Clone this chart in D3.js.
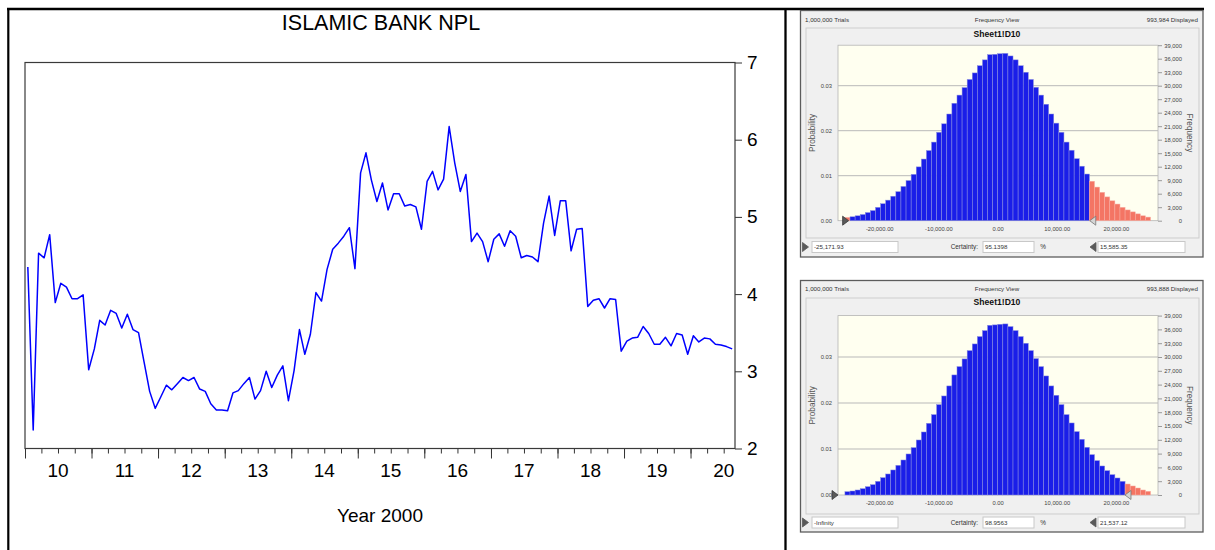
<!DOCTYPE html>
<html>
<head>
<meta charset="utf-8">
<script src="https://cdn.jsdelivr.net/npm/d3@7"></script>
<style>
  html, body { margin: 0; padding: 0; background: #fff; }
  svg { display: block; }
  text { font-family: "Liberation Sans", Arial, sans-serif; }
</style>
</head>
<body>
<svg id="fig" width="1215" height="550"></svg>
<script>
// ---------- Data: Islamic bank NPL ratio (%), monthly Jan 2010 – Aug 2020 ----------
const nplStart = new Date(2010, 0, 1);
const nplEnd = new Date(2020, 8, 1);
const nplValues = [
  4.35, 2.24, 4.53, 4.47, 4.77, 3.89, 4.14, 4.09, 3.94, 3.94, 3.99, 3.02,
  3.29, 3.66, 3.60, 3.79, 3.75, 3.56, 3.74, 3.54, 3.50, 3.12, 2.74, 2.52,
  2.67, 2.82, 2.76, 2.84, 2.92, 2.88, 2.92, 2.77, 2.74, 2.58, 2.50, 2.50,
  2.49, 2.72, 2.75, 2.84, 2.92, 2.64, 2.75, 3.00, 2.79, 2.95, 3.07, 2.62,
  3.01, 3.54, 3.22, 3.48, 4.02, 3.91, 4.32, 4.58, 4.66, 4.75, 4.86, 4.33,
  5.57, 5.83, 5.48, 5.20, 5.44, 5.09, 5.30, 5.30, 5.14, 5.16, 5.13, 4.84,
  5.46, 5.59, 5.35, 5.49, 6.17, 5.70, 5.33, 5.55, 4.68, 4.79, 4.68, 4.42,
  4.71, 4.78, 4.62, 4.82, 4.75, 4.47, 4.50, 4.48, 4.42, 4.92, 5.27, 4.76,
  5.21, 5.21, 4.56, 4.84, 4.85, 3.84, 3.92, 3.94, 3.82, 3.94, 3.93, 3.26,
  3.39, 3.43, 3.44, 3.58, 3.49, 3.35, 3.35, 3.44, 3.33, 3.49, 3.47, 3.22,
  3.46, 3.38, 3.43, 3.42, 3.35, 3.34, 3.32, 3.29
];
const nplTicks = [2, 3, 4, 5, 6, 7];
const nplTitle = "ISLAMIC BANK NPL";
const nplXTitle = "Year 2000";

// ---------- Data: simulated forecast frequency (Sheet1!D10) ----------
const binStart = -25800;
const binWidth = 861;
const frequency = [
  725, 870, 1090, 1380, 1810, 2250, 2970, 3770, 4570, 5440,
  6450, 7610, 8920, 10300, 11960, 13700, 15590, 17470, 19650, 21530,
  23710, 26100, 27910, 29580, 31390, 32840, 34440, 35740, 36900, 36980,
  37120, 37190, 36610, 35740, 34440, 32990, 31390, 29650, 27910, 25880,
  23710, 21680, 19650, 17470, 15660, 13780, 12110, 10370, 8770, 7470,
  6310, 5290, 4420, 3700, 2970, 2390, 1960, 1520, 1090, 800
];
const trials = 1000000;
const forecastName = "Sheet1!D10";
const trialsText = ["1,000,000 Trials", "1,000,000 Trials"];
const displayedText = ["993,984 Displayed", "993,888 Displayed"];
const lowerBound = [-25171.93, -Infinity];
const upperBound = [15585.35, 21537.12];
const lowerLabel = ["-25,171.93", "-Infinity"];
const upperLabel = ["15,585.35", "21,537.12"];
const certaintyText = ["95.1398", "98.9563"];
const probTicks = [0, 0.01, 0.02, 0.03];
const freqTicks = [0, 3000, 6000, 9000, 12000, 15000, 18000, 21000, 24000, 27000, 30000, 33000, 36000, 39000];
const valueTicks = [-20000, -10000, 0, 10000, 20000];

const svg = d3.select("#fig");

// ---------- outer table rules ----------
svg.append("line").attr("x1", 7).attr("x2", 1204).attr("y1", 9).attr("y2", 9)
  .attr("stroke", "#000").attr("stroke-width", 2.4);
svg.append("line").attr("x1", 8.3).attr("x2", 8.3).attr("y1", 8).attr("y2", 550)
  .attr("stroke", "#000").attr("stroke-width", 2.2);
svg.append("line").attr("x1", 785.5).attr("x2", 785.5).attr("y1", 8).attr("y2", 550)
  .attr("stroke", "#000").attr("stroke-width", 2.3);

// ---------- line chart ----------
const L = { left: 25, right: 735, top: 62.5, bottom: 448.5 };
const x = d3.scaleTime().domain([nplStart, nplEnd]).range([L.left, L.right]);
const y = d3.scaleLinear().domain([2, 7]).range([L.bottom, L.top]);
const months = d3.timeMonths(nplStart, nplEnd);
const nplSeries = months.map((m, i) => ({ m, v: nplValues[i] }));
const midMonth = m => (x(m) + x(d3.timeMonth.offset(m, 1))) / 2;

const left = svg.append("g");
left.append("text").attr("x", 381).attr("y", 30).attr("text-anchor", "middle")
  .attr("font-size", 21.5).attr("fill", "#000").text(nplTitle);

// quarterly minor ticks and yearly major ticks
const quarterAxis = d3.axisBottom(x).tickValues(d3.timeMonths(nplStart, nplEnd, 3))
  .tickSize(5).tickFormat("");
const yearAxis = d3.axisBottom(x).tickValues(d3.timeYears(nplStart, nplEnd))
  .tickSize(10).tickFormat("");
[quarterAxis, yearAxis].forEach(ax => {
  const g = left.append("g").attr("transform", `translate(0,${L.bottom})`).call(ax);
  g.select(".domain").remove();
  g.selectAll(".tick line").attr("stroke", "#333").attr("stroke-width", 1);
});
// year labels centred in each year
const yearMids = d3.timeYears(nplStart, nplEnd).map(d => new Date(d.getFullYear(), 6, 1));
left.append("g").selectAll("text").data(yearMids).join("text")
  .attr("x", d => x(d)).attr("y", 477).attr("text-anchor", "middle")
  .attr("font-size", 19).attr("fill", "#000")
  .text(d => String(d.getFullYear()).slice(2));

const yAxis = d3.axisRight(y).tickValues(nplTicks).tickSize(7).tickPadding(5).tickFormat(d3.format("d"));
const ya = left.append("g").attr("transform", `translate(${L.right},0)`).call(yAxis);
ya.select(".domain").remove();
ya.selectAll(".tick line").attr("stroke", "#333");
ya.selectAll(".tick text").attr("font-size", 19).attr("fill", "#000")
  .attr("font-family", "'Liberation Sans', Arial, sans-serif");

left.append("rect").attr("x", L.left).attr("y", L.top)
  .attr("width", L.right - L.left).attr("height", L.bottom - L.top)
  .attr("fill", "none").attr("stroke", "#3a3a3a").attr("stroke-width", 1.2);

left.append("path").datum(nplSeries)
  .attr("fill", "none").attr("stroke", "#0000ff").attr("stroke-width", 1.5)
  .attr("stroke-linejoin", "round")
  .attr("d", d3.line().x(d => midMonth(d.m)).y(d => y(d.v)));

left.append("text").attr("x", 380).attr("y", 522).attr("text-anchor", "middle")
  .attr("font-size", 19).attr("fill", "#000").text(nplXTitle);

// ---------- frequency view panels ----------
const panelLayout = [
  { top: 10.5, bottom: 257, groupTop: 28, groupBottom: 238, plotTop: 45.2, plotBottom: 220.7, headY: 21.5, titleY: 37, xLabelY: 230.5, rowY: 247 },
  { top: 280.5, bottom: 532, groupTop: 298, groupBottom: 514, plotTop: 315.6, plotBottom: 495, headY: 290.5, titleY: 304.5, xLabelY: 506, rowY: 522.5 }
];
const PX = { left: 800.5, right: 1203, gLeft: 806, gRight: 1199, pLeft: 838, pRight: 1158 };
const fmtValue = v => d3.format(",.2f")(v).replace("\u2212", "-");
const bins = frequency.map((f, i) => ({
  x0: binStart + i * binWidth, x1: binStart + (i + 1) * binWidth, f
}));

function triangle(g, tipX, cy, dir, fill, stroke) {
  // dir = 1 points right (tip at tipX), dir = -1 points left
  const w = 6, h = 4.5;
  const p = d3.path();
  p.moveTo(tipX, cy);
  p.lineTo(tipX - dir * w, cy - h);
  p.lineTo(tipX - dir * w, cy + h);
  p.closePath();
  g.append("path").attr("d", p.toString()).attr("fill", fill)
    .attr("stroke", stroke).attr("stroke-width", 0.8);
}

panelLayout.forEach((P, k) => {
  const g = svg.append("g");
  g.append("rect").attr("x", PX.left).attr("y", P.top)
    .attr("width", PX.right - PX.left).attr("height", P.bottom - P.top)
    .attr("fill", "#f0f0f0").attr("stroke", "#5c5c5c").attr("stroke-width", 1.3);
  g.append("rect").attr("x", PX.gLeft).attr("y", P.groupTop)
    .attr("width", PX.gRight - PX.gLeft).attr("height", P.groupBottom - P.groupTop)
    .attr("fill", "#f0f0f0").attr("stroke", "#cdcdcd").attr("stroke-width", 1);

  // header
  g.append("text").attr("x", 805).attr("y", P.headY).attr("font-size", 6.2).attr("fill", "#333").text(trialsText[k]);
  g.append("text").attr("x", 997).attr("y", P.headY).attr("text-anchor", "middle").attr("font-size", 6.2).attr("fill", "#333").text("Frequency View");
  g.append("text").attr("x", 1198).attr("y", P.headY).attr("text-anchor", "end").attr("font-size", 6.2).attr("fill", "#333").text(displayedText[k]);
  g.append("text").attr("x", 997).attr("y", P.titleY).attr("text-anchor", "middle").attr("font-size", 8.6)
    .attr("font-weight", "bold").attr("fill", "#111").text(forecastName);

  const fx = d3.scaleLinear().domain([-26970, 27120]).range([PX.pLeft, PX.pRight]);
  const fy = d3.scaleLinear().domain([0, 39000]).range([P.plotBottom, P.plotTop]);

  g.append("rect").attr("x", PX.pLeft).attr("y", P.plotTop)
    .attr("width", PX.pRight - PX.pLeft).attr("height", P.plotBottom - P.plotTop)
    .attr("fill", "#fffff0").attr("stroke", "#b4b4b4").attr("stroke-width", 0.8);

  // probability gridlines
  g.append("g").selectAll("line").data(probTicks.slice(1)).join("line")
    .attr("x1", PX.pLeft).attr("x2", PX.pRight)
    .attr("y1", d => fy(d * trials)).attr("y2", d => fy(d * trials))
    .attr("stroke", "#b9b9b9").attr("stroke-width", 1);

  // bars
  g.append("g").selectAll("rect").data(bins).join("rect")
    .attr("x", d => fx(d.x0)).attr("width", d => fx(d.x1) - fx(d.x0))
    .attr("y", d => fy(d.f)).attr("height", d => fy(0) - fy(d.f))
    .attr("fill", d => {
      const mid = (d.x0 + d.x1) / 2;
      return (mid < lowerBound[k] || mid > upperBound[k]) ? "#f47564" : "#1a1ee8";
    })
    .attr("stroke", d => {
      const mid = (d.x0 + d.x1) / 2;
      return (mid < lowerBound[k] || mid > upperBound[k]) ? "#f8b0a6" : "#8c90e0";
    })
    .attr("stroke-width", 0.5);

  // left probability axis
  const pa = g.append("g").attr("transform", `translate(${PX.pLeft},0)`)
    .call(d3.axisLeft(d3.scaleLinear().domain([0, 0.039]).range([P.plotBottom, P.plotTop]))
      .tickValues(probTicks).tickSize(0).tickPadding(6).tickFormat(d3.format(".2f")));
  pa.select(".domain").remove();
  pa.selectAll("text").attr("font-size", 5.8).attr("fill", "#444")
    .attr("font-family", "'Liberation Sans', Arial, sans-serif");

  // right frequency axis
  const fa = g.append("g").attr("transform", `translate(${PX.pRight},0)`)
    .call(d3.axisRight(fy).tickValues(freqTicks).tickSize(4).tickFormat(d3.format(",")));
  fa.select(".domain").remove();
  fa.selectAll(".tick line").attr("stroke", "#9a9a9a");
  fa.selectAll("text").attr("font-size", 5.8).attr("fill", "#444")
    .attr("text-anchor", "end").attr("x", 24)
    .attr("font-family", "'Liberation Sans', Arial, sans-serif");

  // value axis
  const va = g.append("g").attr("transform", `translate(0,${P.plotBottom})`)
    .call(d3.axisBottom(fx).tickValues(valueTicks).tickSize(0).tickPadding(6).tickFormat(fmtValue));
  va.select(".domain").remove();
  va.selectAll("text").attr("font-size", 5.8).attr("fill", "#444")
    .attr("font-family", "'Liberation Sans', Arial, sans-serif");

  // axis titles
  const midY = (P.plotTop + P.plotBottom) / 2;
  g.append("text").attr("transform", `translate(815,${midY}) rotate(-90)`)
    .attr("text-anchor", "middle").attr("font-size", 8.2).attr("fill", "#555").text("Probability");
  g.append("text").attr("transform", `translate(1187,${midY}) rotate(90)`)
    .attr("text-anchor", "middle").attr("font-size", 8.2).attr("fill", "#555").text("Frequency");

  // certainty grabbers on the value axis
  const lowX = isFinite(lowerBound[k]) ? fx(lowerBound[k]) : PX.pLeft;
  triangle(g, lowX, P.plotBottom, 1, "#5a5a5a", "#3a3a3a");
  triangle(g, fx(upperBound[k]), P.plotBottom, -1, "#d4d4d4", "#777");

  // bottom row: bounds and certainty
  const bh = 11, by = P.rowY - bh / 2;
  triangle(g, 808.5, P.rowY, 1, "#5a5a5a", "#5a5a5a");
  g.append("rect").attr("x", 812).attr("y", by).attr("width", 86).attr("height", bh)
    .attr("fill", "#fff").attr("stroke", "#c8c8c8");
  g.append("text").attr("x", 814).attr("y", P.rowY + 2.2).attr("font-size", 6.2).attr("fill", "#333").text(lowerLabel[k]);
  g.append("text").attr("x", 978).attr("y", P.rowY + 2.2).attr("text-anchor", "end").attr("font-size", 6.4).attr("fill", "#333").text("Certainty:");
  g.append("rect").attr("x", 983).attr("y", by).attr("width", 51).attr("height", bh)
    .attr("fill", "#fff").attr("stroke", "#c8c8c8");
  g.append("text").attr("x", 985).attr("y", P.rowY + 2.2).attr("font-size", 6.2).attr("fill", "#333").text(certaintyText[k]);
  g.append("text").attr("x", 1043).attr("y", P.rowY + 2.2).attr("text-anchor", "middle").attr("font-size", 6.4).attr("fill", "#333").text("%");
  triangle(g, 1090, P.rowY, -1, "#5a5a5a", "#5a5a5a");
  g.append("rect").attr("x", 1098).attr("y", by).attr("width", 87).attr("height", bh)
    .attr("fill", "#fff").attr("stroke", "#c8c8c8");
  g.append("text").attr("x", 1100).attr("y", P.rowY + 2.2).attr("font-size", 6.2).attr("fill", "#333").text(upperLabel[k]);
});
</script>
</body>
</html>
